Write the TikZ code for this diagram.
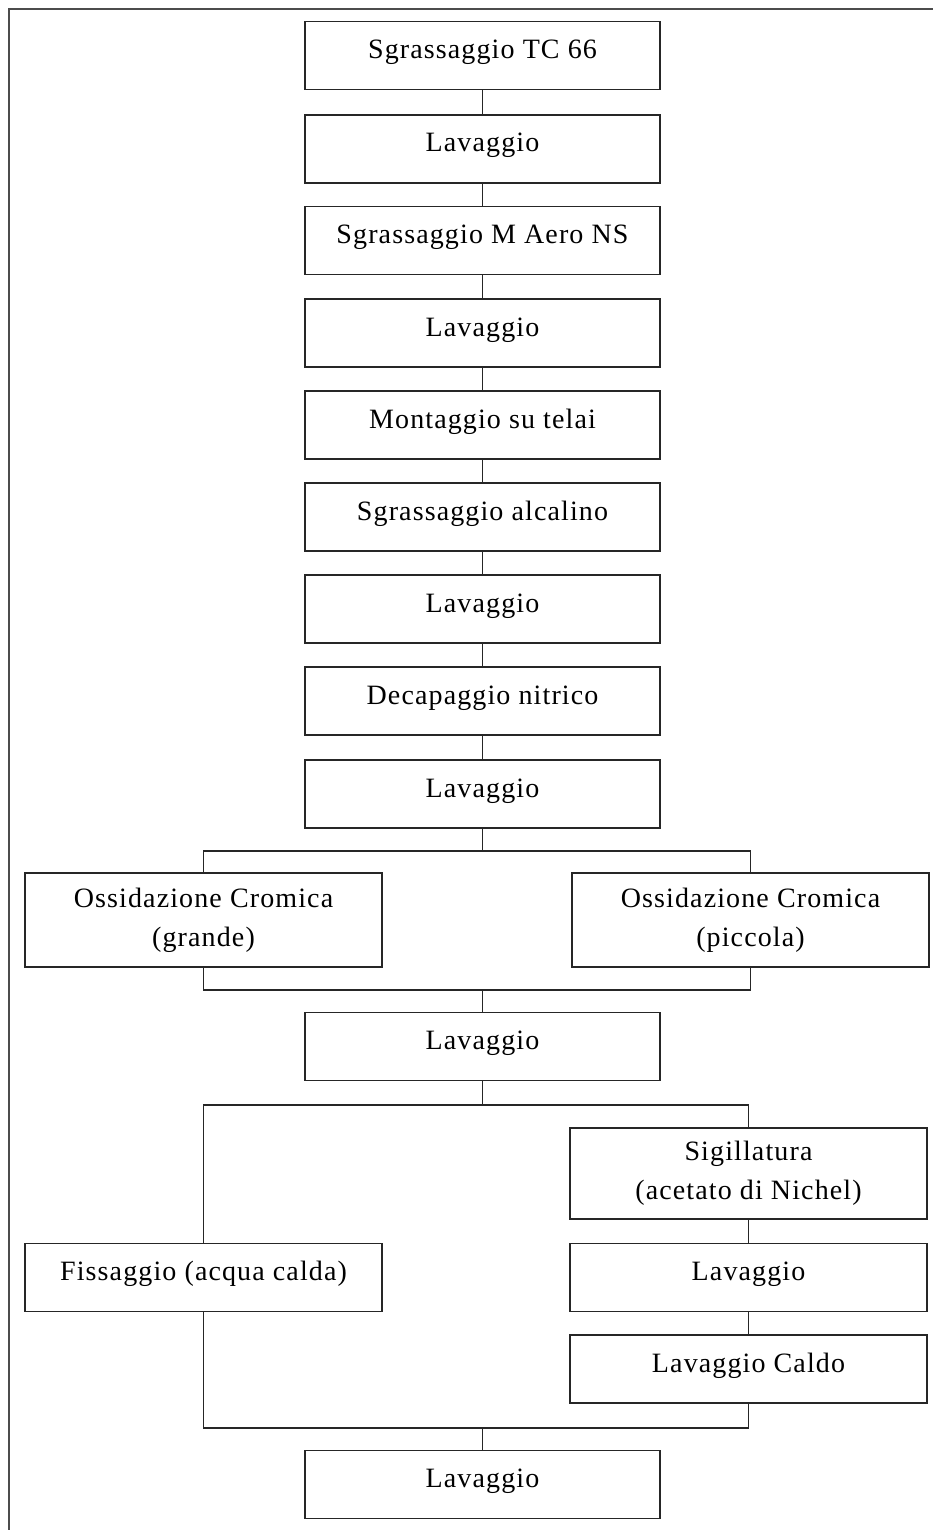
\documentclass[tikz,border=0pt]{standalone}
\usepackage{fontspec}
\setmainfont[LetterSpace=4]{Liberation Serif}
\usepackage{tikz}

\tikzset{
  stepbox/.style={draw=black!85, line width=0.8pt, rectangle, inner sep=0pt, outer sep=0pt,
    minimum width=177.5pt, minimum height=34pt, text height=18.5pt, text depth=15.5pt,
    font=\fontsize{14}{19.5}\selectfont},
  twobox/.style={draw=black!85, line width=0.8pt, rectangle, inner sep=0pt, outer sep=0pt,
    minimum width=178.5pt, align=center, font=\fontsize{14}{19.5}\selectfont},
  link/.style={line width=0.8pt, draw=black!85},
}

\begin{document}
\begin{tikzpicture}[x=0.5pt, y=-0.5pt]
			%%%%% START %%%%%
			\useasboundingbox (0, 0) rectangle (933, 1530);
			\draw[line width=0.6pt, color=black!70] (9, 1530) -- (9, 9) -- (933, 9);
			
			% main column
			\node[stepbox] (sgr1) at (482.5, 55.5) {Sgrassaggio TC 66};
			\node[stepbox] (lav1) at (482.5, 149) {Lavaggio};
			\node[stepbox] (sgr2) at (482.5, 240.5) {Sgrassaggio M Aero NS};
			\node[stepbox] (lav2) at (482.5, 333) {Lavaggio};
			\node[stepbox] (mont) at (482.5, 425) {Montaggio su telai};
			\node[stepbox] (sgr3) at (482.5, 517) {Sgrassaggio alcalino};
			\node[stepbox] (lav3) at (482.5, 609) {Lavaggio};
			\node[stepbox] (deca) at (482.5, 701) {Decapaggio nitrico};
			\node[stepbox] (lav4) at (482.5, 794) {Lavaggio};
			
			% ossidazione
			\node[twobox, minimum height=47pt] (oxg) at (203.5, 920) {Ossidazione Cromica\\(grande)};
			\node[twobox, minimum height=47pt] (oxp) at (750.5, 920) {Ossidazione Cromica\\(piccola)};
			\node[stepbox] (lav5) at (482.5, 1046.5) {Lavaggio};
			
			% fissaggio / sigillatura
			\node[stepbox, minimum width=178.5pt] (fiss) at (203.5, 1277.5) {Fissaggio (acqua calda)};
			\node[twobox, minimum height=45.5pt] (sigi) at (748.5, 1173.5) {Sigillatura\\(acetato di Nichel)};
			\node[stepbox, minimum width=178.5pt] (lav6) at (748.5, 1277.5) {Lavaggio};
			\node[stepbox, minimum width=178.5pt] (lavc) at (748.5, 1369) {Lavaggio Caldo};
			\node[stepbox] (lav7) at (482.5, 1484.5) {Lavaggio};
			
			\coordinate (split1) at (482.5, 851);
			\coordinate (join1) at (482.5, 990);
			\coordinate (split2) at (482.5, 1105);
			\coordinate (join2) at (482.5, 1428);
			
			\draw[link] (sgr1) -- (lav1);
			\draw[link] (lav1) -- (sgr2);
			\draw[link] (sgr2) -- (lav2);
			\draw[link] (lav2) -- (mont);
			\draw[link] (mont) -- (sgr3);
			\draw[link] (sgr3) -- (lav3);
			\draw[link] (lav3) -- (deca);
			\draw[link] (deca) -- (lav4);
			
			\draw[link] (lav4.south) -- (split1);
			\draw[link] (split1) -| (oxg.north);
			\draw[link] (split1) -| (oxp.north);
			\draw[link] (oxg.south) |- (join1) -| (oxp.south);
			\draw[link] (join1) -- (lav5.north);
			
			\draw[link] (lav5.south) -- (split2);
			\draw[link] (split2) -| (fiss.north);
			\draw[link] (split2) -| (sigi.north);
			\draw[link] (sigi) -- (lav6);
			\draw[link] (lav6) -- (lavc);
			\draw[link] (fiss.south) |- (join2) -| (lavc.south);
			\draw[link] (join2) -- (lav7.north);
			
			%%%%% END %%%%%
\end{tikzpicture}
\end{document}
